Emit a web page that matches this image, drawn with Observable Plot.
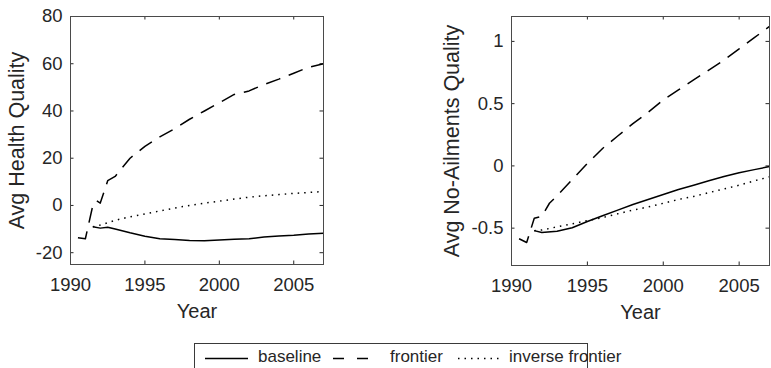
<!DOCTYPE html>
<html>
<head>
<meta charset="utf-8">
<script src="https://cdn.jsdelivr.net/npm/d3@7"></script>
<script src="https://cdn.jsdelivr.net/npm/@observablehq/plot@0.6"></script>
<style>
  html, body { margin: 0; padding: 0; background: #fff; }
  #fig { position: relative; width: 771px; height: 368px; overflow: hidden; font-family: "Liberation Sans", Arial, Helvetica, sans-serif; color: #262626; }
  #left, #right { position: absolute; top: 0; }
  #left { left: 0; }
  #right { left: 380px; }
  #legend { position: absolute; left: 194px; top: 343px; width: 394px; height: 40px; border: 1px solid #3a3a3a; box-sizing: border-box; background: #fff; }
  .item { position: absolute; top: 0; height: 30px; }
  .item svg { position: absolute; top: 0; left: 0; }
  .item span { position: absolute; top: 3px; font-size: 17px; white-space: nowrap; color: #262626; }
</style>
</head>
<body>
<div id="fig">
  <div id="left"></div>
  <div id="right"></div>
  <div id="legend"></div>
</div>
<script>
// Shared x ticks
const xTicks = [1990, 1995, 2000, 2005];

// Panel 1: average health quality
const healthFrontierYears = [1990.5, 1991, 1991.5, 1991.75, 1992, 1992.5, 1993, 1994, 1995, 1996, 1997, 1998, 1999, 2000, 2001, 2002, 2003, 2004, 2005, 2006, 2007];
const healthFrontier = [-13.7, -14.1, 0, 2, 1, 10.5, 12.3, 20, 25, 29, 32.5, 36.5, 40, 43.5, 47, 48.5, 51.2, 53.5, 56, 58.5, 60];
const healthYears = [1991.5, 1992, 1992.5, 1993, 1994, 1995, 1996, 1997, 1998, 1999, 2000, 2001, 2002, 2003, 2004, 2005, 2006, 2007];
const healthBaseline = [-9, -9.6, -9.2, -10, -11.6, -13, -14.1, -14.4, -14.8, -14.9, -14.6, -14.3, -14.1, -13.4, -12.9, -12.6, -12.1, -11.8];
const healthInverse = [-9, -8.3, -7.3, -6.3, -4.8, -3.6, -2.3, -1.1, 0, 1, 1.8, 2.7, 3.5, 4.1, 4.6, 5.1, 5.5, 5.9];
const healthYTicks = [-20, 0, 20, 40, 60, 80];

// Panel 2: average no-ailments quality
const ailFrontierYears = [1990.5, 1991, 1991.5, 1992, 1992.5, 1993, 1994, 1995, 1996, 1997, 1998, 1999, 2000, 2001, 2002, 2003, 2004, 2005, 2006, 2007];
const ailFrontier = [-0.585, -0.615, -0.42, -0.405, -0.3, -0.24, -0.11, 0.02, 0.14, 0.24, 0.34, 0.43, 0.53, 0.61, 0.69, 0.77, 0.85, 0.94, 1.03, 1.12];
const ailYears = [1991.5, 1992, 1993, 1994, 1995, 1996, 1997, 1998, 1999, 2000, 2001, 2002, 2003, 2004, 2005, 2006, 2007];
const ailBaseline = [-0.52, -0.535, -0.525, -0.497, -0.447, -0.4, -0.355, -0.31, -0.27, -0.23, -0.19, -0.155, -0.12, -0.085, -0.055, -0.03, -0.005];
const ailInverse = [-0.52, -0.515, -0.49, -0.465, -0.44, -0.415, -0.385, -0.355, -0.33, -0.30, -0.27, -0.245, -0.215, -0.185, -0.155, -0.12, -0.088];
const ailYTicks = [-0.5, 0, 0.5, 1];

// Series names and line styles
const seriesNames = ["baseline", "frontier", "inverse frontier"];
const dashes = { "baseline": null, "frontier": "15,9", "inverse frontier": "1.5,5" };

const FONT = '"Liberation Sans", Arial, Helvetica, sans-serif';
const INK = "#262626";
const TICK = 3.5;

const zip = (xs, ys) => xs.map((x, i) => ({ x, y: ys[i] }));

function panel({ width, height, margins, yDomain, yTicks, yLabel, yLabelDx, series }) {
  const [mt, mr, mb, ml] = margins;
  const fw = width - ml - mr;
  const fh = height - mt - mb;
  return Plot.plot({
    width, height,
    marginTop: mt, marginRight: mr, marginBottom: mb, marginLeft: ml,
    x: { domain: [1990, 2007] },
    y: { domain: yDomain },
    style: { fontFamily: FONT, color: INK, background: "transparent", overflow: "visible" },
    marks: [
      // tick labels
      Plot.axisX(xTicks, { tickSize: 0, tickPadding: 13, tickFormat: d => String(d), fontSize: 18.5, label: null }),
      Plot.axisY(yTicks, { tickSize: 0, tickPadding: 8, tickFormat: d => String(d), fontSize: 18.5, label: null }),
      // inward tick marks on all four sides
      Plot.ruleX(xTicks, { x: d => d, insetTop: fh - TICK, stroke: INK }),
      Plot.ruleX(xTicks, { x: d => d, insetBottom: fh - TICK, stroke: INK }),
      Plot.ruleY(yTicks, { y: d => d, insetRight: fw - TICK, stroke: INK }),
      Plot.ruleY(yTicks, { y: d => d, insetLeft: fw - TICK, stroke: INK }),
      // data lines
      ...series.map(s => Plot.line(s.data, {
        x: "x", y: "y", stroke: "#000", strokeWidth: 1.5,
        strokeDasharray: dashes[s.name], strokeLinecap: "butt", strokeLinejoin: "round"
      })),
      Plot.frame({ stroke: "#4a4a4a", strokeWidth: 1 }),
      // axis titles
      Plot.text(["Year"], { text: d => d, frameAnchor: "bottom", dy: 39, lineAnchor: "top", fontSize: 20, fill: INK }),
      Plot.text([yLabel], { text: d => d, frameAnchor: "left", dx: yLabelDx, rotate: -90, lineAnchor: "middle", textAnchor: "middle", fontSize: 21.5, fill: INK })
    ]
  });
}

document.getElementById("left").append(panel({
  width: 340, height: 330, margins: [16, 17, 66, 70],
  yDomain: [-25, 80], yTicks: healthYTicks,
  yLabel: "Avg Health Quality", yLabelDx: -53,
  series: [
    { name: "baseline", data: zip(healthYears, healthBaseline) },
    { name: "frontier", data: zip(healthFrontierYears, healthFrontier) },
    { name: "inverse frontier", data: zip(healthYears, healthInverse) }
  ]
}));

document.getElementById("right").append(panel({
  width: 391, height: 330, margins: [16, 2, 65, 131],
  yDomain: [-0.8, 1.2], yTicks: ailYTicks,
  yLabel: "Avg No-Ailments Quality", yLabelDx: -59,
  series: [
    { name: "baseline", data: zip(ailYears, ailBaseline) },
    { name: "frontier", data: zip(ailFrontierYears, ailFrontier) },
    { name: "inverse frontier", data: zip(ailYears, ailInverse) }
  ]
}));

// Legend below both panels
const legend = document.getElementById("legend");
const legendLayout = [
  { name: "baseline", left: 10, len: 43, gap: 10 },
  { name: "frontier", left: 138, len: 36, gap: 21 },
  { name: "inverse frontier", left: 263, len: 42, gap: 9 }
];
legendLayout.forEach(({ name, left, len, gap }) => {
  const item = document.createElement("div");
  item.className = "item";
  item.style.left = left + "px";
  item.style.width = (len + gap + 140) + "px";
  const dash = name === "frontier" ? "11,13" : dashes[name];
  item.innerHTML =
    `<svg width="${len}" height="30"><line x1="0" x2="${len}" y1="14.5" y2="14.5" stroke="#000" stroke-width="1.3" ${dash ? `stroke-dasharray="${dash}"` : ""}/></svg>` +
    `<span style="left:${len + gap}px">${name}</span>`;
  legend.append(item);
});
</script>
</body>
</html>
